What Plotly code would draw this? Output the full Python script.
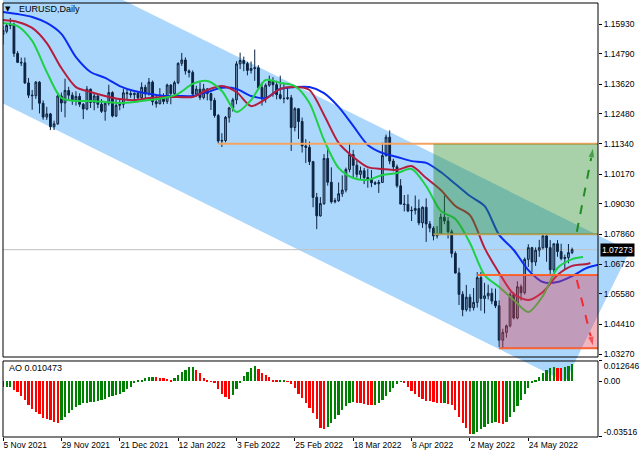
import plotly.graph_objects as go
import pandas as pd

# ---------------- data ----------------
weekdays = list(pd.bdate_range("2021-11-05", "2022-06-09"))
sunday_bars = [pd.Timestamp("2022-03-13"), pd.Timestamp("2022-03-27")]
dates = sorted(weekdays + sunday_bars)

opens = [1.1553,1.1565,1.1587,1.1592,1.1480,1.1446,1.1444,1.1367,1.1320,1.1318,1.1370,1.1289,1.1236,1.1248,1.1199,1.1210,
 1.1317,1.1290,1.1338,1.1320,1.1302,1.1315,1.1285,1.1267,1.1343,1.1292,1.1317,1.1285,1.1258,1.1289,1.1330,1.1240,
 1.1281,1.1285,1.1329,1.1326,1.1322,1.1327,1.1310,1.1350,1.1325,1.1370,1.1295,1.1287,1.1312,1.1296,1.1359,1.1326,
 1.1368,1.1442,1.1455,1.1413,1.1407,1.1324,1.1343,1.1311,1.1344,1.1326,1.1300,1.1242,1.1144,1.1146,1.1235,1.1271,
 1.1302,1.1440,1.1453,1.1441,1.1415,1.1422,1.1425,1.1349,1.1306,1.1358,1.1374,1.1360,1.1322,1.1308,1.1307,1.1310,
 1.1196,1.1268,1.1219,1.1125,1.1120,1.1065,1.0928,1.0857,1.0904,1.1077,1.0986,1.0911,1.0915,1.0942,1.0956,1.1035,
 1.1092,1.1051,1.1016,1.1030,1.1004,1.0998,1.0984,1.0980,1.0985,1.1088,1.1159,1.1067,1.1045,1.0972,1.0902,1.0901,
 1.0876,1.0878,1.0885,1.0830,1.0890,1.0826,1.0810,1.0780,1.0787,1.0852,1.0837,1.0796,1.0713,1.0638,1.0556,1.0497,
 1.0545,1.0505,1.0525,1.0620,1.0540,1.0550,1.0560,1.0530,1.0512,1.0380,1.0410,1.0435,1.0555,1.0465,1.0585,1.0562,
 1.0690,1.0735,1.0680,1.0725,1.0735,1.0780,1.0735,1.0650,1.0750,1.0720,1.0693,1.0697,1.0716]
highs = [1.1585,1.1593,1.1616,1.1598,1.1489,1.1464,1.1464,1.1386,1.1340,1.1374,1.1374,1.1300,1.1275,1.1252,1.1222,1.1330,
 1.1330,1.1383,1.1352,1.1331,1.1335,1.1327,1.1290,1.1355,1.1345,1.1325,1.1320,1.1305,1.1292,1.1360,1.1335,1.1305,
 1.1305,1.1345,1.1342,1.1336,1.1330,1.1333,1.1369,1.1360,1.1386,1.1376,1.1320,1.1347,1.1327,1.1364,1.1362,1.1375,
 1.1446,1.1482,1.1465,1.1419,1.1415,1.1356,1.1369,1.1363,1.1347,1.1330,1.1310,1.1248,1.1174,1.1240,1.1275,1.1310,
 1.1450,1.1483,1.1468,1.1448,1.1449,1.1495,1.1435,1.1369,1.1365,1.1395,1.1389,1.1375,1.1395,1.1364,1.1348,1.1321,
 1.1274,1.1270,1.1234,1.1151,1.1142,1.1068,1.0945,1.0929,1.1094,1.1121,1.1043,1.0925,1.0985,1.1012,1.1042,1.1137,
 1.1110,1.1070,1.1046,1.1041,1.1038,1.1033,1.0990,1.0995,1.1138,1.1169,1.1185,1.1076,1.1054,1.0998,1.0937,1.0939,
 1.0893,1.0935,1.0920,1.0893,1.0924,1.0837,1.0817,1.0818,1.0866,1.0936,1.0852,1.0805,1.0721,1.0658,1.0568,1.0592,
 1.0557,1.0580,1.0641,1.0642,1.0600,1.0593,1.0579,1.0578,1.0533,1.0424,1.0440,1.0564,1.0564,1.0606,1.0594,1.0697,
 1.0748,1.0738,1.0736,1.0765,1.0787,1.0786,1.0764,1.0750,1.0764,1.0750,1.0708,1.0749,1.0735]
lows = [1.1514,1.1557,1.1573,1.1467,1.1443,1.1432,1.1363,1.1309,1.1264,1.1306,1.1250,1.1226,1.1225,1.1186,1.1186,1.1206,
 1.1256,1.1235,1.1305,1.1283,1.1280,1.1275,1.1228,1.1262,1.1271,1.1262,1.1270,1.1252,1.1222,1.1280,1.1235,1.1236,
 1.1262,1.1270,1.1300,1.1310,1.1305,1.1299,1.1300,1.1300,1.1318,1.1281,1.1272,1.1285,1.1285,1.1286,1.1285,1.1315,
 1.1362,1.1432,1.1399,1.1388,1.1315,1.1314,1.1301,1.1304,1.1300,1.1263,1.1234,1.1135,1.1121,1.1139,1.1215,1.1257,
 1.1285,1.1420,1.1412,1.1396,1.1403,1.1375,1.1340,1.1280,1.1291,1.1352,1.1314,1.1304,1.1303,1.1289,1.1302,1.1106,
 1.1181,1.1152,1.1100,1.1060,1.1052,1.0890,1.0806,1.0854,1.0899,1.0973,1.0904,1.0905,1.0911,1.0930,1.0947,1.1024,
 1.1004,1.1004,1.0998,1.0979,1.0965,1.0967,1.0975,1.0945,1.0985,1.1084,1.1055,1.1028,1.0965,1.0902,1.0874,1.0871,
 1.0837,1.0862,1.0821,1.0811,1.0757,1.0794,1.0763,1.0770,1.0787,1.0825,1.0770,1.0697,1.0635,1.0515,1.0472,1.0490,
 1.0490,1.0494,1.0505,1.0493,1.0483,1.0536,1.0518,1.0503,1.0354,1.0348,1.0390,1.0429,1.0460,1.0460,1.0532,1.0555,
 1.0661,1.0642,1.0665,1.0700,1.0728,1.0681,1.0627,1.0640,1.0700,1.0686,1.0653,1.0675,1.0710]
closes = [1.1568,1.1587,1.1592,1.1480,1.1446,1.1444,1.1367,1.1320,1.1318,1.1370,1.1289,1.1236,1.1248,1.1199,1.1210,1.1317,
 1.1290,1.1338,1.1320,1.1302,1.1315,1.1285,1.1267,1.1343,1.1292,1.1317,1.1285,1.1258,1.1289,1.1330,1.1240,1.1281,
 1.1285,1.1329,1.1326,1.1322,1.1327,1.1310,1.1350,1.1325,1.1370,1.1295,1.1287,1.1312,1.1296,1.1359,1.1326,1.1368,
 1.1442,1.1455,1.1413,1.1407,1.1324,1.1343,1.1311,1.1344,1.1326,1.1300,1.1242,1.1144,1.1146,1.1235,1.1271,1.1302,
 1.1440,1.1453,1.1441,1.1415,1.1422,1.1425,1.1349,1.1306,1.1358,1.1374,1.1360,1.1322,1.1308,1.1307,1.1310,1.1196,
 1.1268,1.1219,1.1125,1.1120,1.1065,1.0928,1.0857,1.0904,1.1077,1.0986,1.0911,1.0915,1.0942,1.0956,1.1035,1.1092,
 1.1051,1.1016,1.1030,1.1004,1.0998,1.0984,1.0980,1.0985,1.1088,1.1159,1.1067,1.1045,1.0972,1.0902,1.0901,1.0876,
 1.0878,1.0885,1.0830,1.0890,1.0826,1.0810,1.0780,1.0787,1.0852,1.0837,1.0796,1.0713,1.0638,1.0556,1.0497,1.0545,
 1.0505,1.0525,1.0620,1.0540,1.0550,1.0560,1.0530,1.0512,1.0380,1.0410,1.0435,1.0555,1.0465,1.0585,1.0562,1.0690,
 1.0735,1.0680,1.0725,1.0735,1.0780,1.0735,1.0650,1.0750,1.0720,1.0693,1.0697,1.0716,1.07273]

# Alligator lines (every 4 bars; shifted forward)
jaw_bars = [0,4,8,12,16,20,24,28,32,36,40,44,48,52,56,60,64,68,72,76,80,84,88,92,96,100,104,108,112,116,120,124,128,132,136,140,144,148,152,156,160,164]
jaw_vals = [1.1639,1.1631,1.1620,1.1597,1.1555,1.1466,1.1409,1.1386,1.1355,1.1336,1.1325,1.1317,1.1317,1.1317,1.1332,1.1348,
 1.1344,1.1317,1.1309,1.1344,1.1351,1.1351,1.1328,1.1275,1.1202,1.1129,1.1098,1.1083,1.1067,1.1060,1.1025,1.0979,1.0933,
 1.0895,1.0784,1.0726,1.0649,1.0603,1.0603,1.0626,1.0657,1.0672]
teeth_bars = [0,4,8,12,16,20,24,28,32,36,40,44,48,52,56,60,64,68,72,76,80,84,88,92,96,100,104,108,112,116,120,124,128,132,136,140,144,148,152,156,160,161]
teeth_vals = [1.1608,1.1601,1.1578,1.1520,1.1424,1.1351,1.1332,1.1317,1.1305,1.1301,1.1309,1.1313,1.1313,1.1313,1.1340,1.1355,
 1.1332,1.1278,1.1305,1.1344,1.1351,1.1340,1.1244,1.1137,1.1083,1.1044,1.1037,1.1033,1.1048,1.1002,1.0956,1.0895,1.0860,
 1.0734,1.0638,1.0557,1.0534,1.0565,1.0630,1.0665,1.0672,1.0676]
lips_bars = [0,4,8,12,16,20,24,28,32,36,40,44,48,52,56,60,64,68,72,76,80,84,88,92,96,100,104,108,112,116,120,124,128,132,136,140,144,148,152,156,159]
lips_vals = [1.1597,1.1585,1.1528,1.1409,1.1309,1.1298,1.1298,1.1294,1.1290,1.1294,1.1301,1.1309,1.1325,1.1363,1.1374,1.1336,
 1.1255,1.1301,1.1378,1.1367,1.1355,1.1290,1.1148,1.1041,1.1002,1.0995,1.1014,1.1021,1.1037,1.0971,1.0876,1.0845,1.0753,
 1.0630,1.0584,1.0534,1.0488,1.0550,1.0657,1.0691,1.0699]

# Awesome Oscillator per bar (x 0.001)
ao_milli = [
 -4.0,-3.7,-3.6,-5.7,-6.7,-9.4,-12.0,-15.1,-17.8,-19.3,
 -20.8,-23.1,-23.9,-24.5,-25.6,-26.2,-24.5,-22.4,-20.3,-18.2,
 -16.6,-15.3,-14.0,-13.6,-13.4,-13.0,-12.6,-12.0,-11.1,-10.3,
 -9.4,-8.8,-8.2,-6.9,-5.2,-3.6,-0.6,0.6,1.0,1.7,
 2.3,2.7,2.3,1.9,1.7,1.5,1.0,1.7,3.8,5.5,
 7.3,8.6,9.0,7.3,5.2,1.7,0.6,-0.4,-1.5,-5.0,
 -7.8,-10.3,-11.3,-9.0,-5.0,-1.5,3.1,5.9,8.4,9.6,
 7.5,5.2,3.8,2.3,1.0,0.4,0.45,0.6,-0.4,-2.1,
 -4.6,-7.8,-10.9,-14.0,-17.2,-20.3,-24.1,-29.8,-30.0,-28.7,
 -26.6,-24.1,-21.4,-18.2,-15.7,-14.0,-13.2,-13.6,-14.0,-14.5,
 -14.9,-15.3,-15.1,-14.0,-12.0,-9.4,-6.7,-4.2,-1.9,-0.4,
 -1.5,-3.6,-6.1,-8.2,-9.9,-11.3,-12.2,-12.6,-13.2,-13.8,
 -14.0,-13.7,-14.3,-15.3,-18.2,-22.4,-26.6,-29.8,-33.5,-33.0,
 -31.9,-30.4,-28.7,-27.0,-26.2,-26.0,-26.6,-27.0,-25.6,-22.4,
 -19.3,-15.7,-12.0,-8.2,-4.6,-1.5,0.6,2.7,4.8,6.9,
 8.0,8.6,8.4,8.0,9.0,9.6,10.473]
ao_vals = [v / 1000 for v in ao_milli]
ao_prev_first = -4.3 / 1000

tick_dates = ["2021-11-05","2021-11-29","2021-12-21","2022-01-12","2022-02-03","2022-02-25","2022-03-18","2022-04-08","2022-05-02","2022-05-24"]
tick_labels = ["5 Nov 2021","29 Nov 2021","21 Dec 2021","12 Jan 2022","3 Feb 2022","25 Feb 2022","18 Mar 2022","8 Apr 2022","2 May 2022","24 May 2022"]
price_ticks = [1.15930,1.14790,1.13620,1.12480,1.11340,1.10170,1.09030,1.07860,1.06720,1.05580,1.04410,1.03270]
ao_top, ao_zero, ao_bottom = 0.012646, 0.0, -0.03516

# drawing objects (bar index, price)
channel_upper = [(0, 1.1913), (171.8, 1.07225)]
channel_lower = [(0, 1.1288), (154.1, 1.02207)]
green_zone = dict(start=118, low=1.0786, high=1.1134)
red_zone = dict(start=136, low=1.0349, high=1.0630)
level_lines = [(59, 1.1134, "#f4a460"), (118, 1.0786, "#c9a05a"), (130, 1.0630, "#ff6a2a"), (136, 1.0349, "#ff6a2a")]
arrow_up = [(157.3, 1.0796), (161.8, 1.1120)]
arrow_down = [(157.3, 1.0611), (161.8, 1.0355)]

# ---------------- layout constants ----------------
W, H = 640, 457
X_LO, X_HI = 0.0, 163.1
P_LO, P_HI = 1.031549, 1.167356
AO_LO, AO_HI = ao_bottom - 1e-6, ao_top + 1e-6
PRICE_DOM = [0.18433, 1.0]
AO_DOM = [0.0, 0.17512]

bar_idx = list(range(len(closes)))
tick_pos = [dates.index(pd.Timestamp(d)) for d in tick_dates]

def px(i):
    return (i - X_LO) / (X_HI - X_LO)

def py(p):
    return PRICE_DOM[0] + (p - P_LO) / (P_HI - P_LO) * (PRICE_DOM[1] - PRICE_DOM[0])

fig = go.Figure()

navy = "#0c2340"
fig.add_trace(go.Candlestick(
    x=bar_idx, open=opens, high=highs, low=lows, close=closes,
    increasing=dict(line=dict(color=navy, width=1), fillcolor="#7b98b6"),
    decreasing=dict(line=dict(color=navy, width=1), fillcolor=navy),
    whiskerwidth=0, xaxis="x", yaxis="y", showlegend=False, hoverinfo="skip"))

for xs, ys, col in [(jaw_bars, jaw_vals, "#0a2cf0"), (teeth_bars, teeth_vals, "#b41e3c"), (lips_bars, lips_vals, "#1ed045")]:
    fig.add_trace(go.Scatter(x=xs, y=ys, mode="lines", line=dict(color=col, width=2, shape="spline", smoothing=0.8),
                             xaxis="x", yaxis="y", showlegend=False, hoverinfo="skip"))

ao_colors = []
prev = ao_prev_first
for v in ao_vals:
    ao_colors.append("#008000" if v > prev else "#ff0000")
    prev = v
fig.add_trace(go.Bar(x=bar_idx, y=ao_vals, marker=dict(color=ao_colors, line=dict(width=0)), width=0.62,
                     xaxis="x", yaxis="y2", showlegend=False, hoverinfo="skip"))
for ya in ["y3", "y4"]:
    fig.add_trace(go.Scatter(x=[X_LO], y=[ao_zero], mode="markers", marker=dict(opacity=0, size=1),
                             xaxis="x", yaxis=ya, showlegend=False, hoverinfo="skip"))

for pts, col in [(arrow_up, "#1b8a1b"), (arrow_down, "#ff2020")]:
    fig.add_trace(go.Scatter(x=[p[0] for p in pts], y=[p[1] for p in pts], mode="lines+markers",
                             line=dict(color=col, width=2, dash="dash"),
                             marker=dict(symbol=["circle", "arrow"], size=[0, 11], color=col, angleref="previous"),
                             xaxis="x", yaxis="y", showlegend=False, hoverinfo="skip"))

shapes = []
ul, ur = channel_upper
ll, lr = channel_lower
path = "M {} {} L {} {} L {} {} L {} {} Z".format(px(ul[0]), py(ul[1]), px(ur[0]), py(ur[1]),
                                                  px(lr[0]), py(lr[1]), px(ll[0]), py(ll[1]))
shapes.append(dict(type="path", path=path, xref="paper", yref="paper", fillcolor="#acd7fc",
                   line=dict(width=0), layer="below"))
shapes.append(dict(type="line", xref="x", yref="y", x0=X_LO, x1=X_HI, y0=closes[-1], y1=closes[-1],
                   line=dict(color="#c0c0c0", width=1), layer="below"))
for start, lvl, col in level_lines:
    shapes.append(dict(type="line", xref="x", yref="y", x0=start, x1=X_HI + 5, y0=lvl, y1=lvl,
                       line=dict(color=col, width=2), layer="above"))
shapes.append(dict(type="rect", xref="x", yref="y", x0=green_zone["start"], x1=X_HI + 5,
                   y0=green_zone["low"], y1=green_zone["high"], fillcolor="rgba(40,140,40,0.40)",
                   line=dict(width=0), layer="above"))
shapes.append(dict(type="rect", xref="x", yref="y", x0=red_zone["start"], x1=X_HI + 5,
                   y0=red_zone["low"], y1=red_zone["high"], fillcolor="rgba(225,60,80,0.38)",
                   line=dict(width=0), layer="above"))
shapes.append(dict(type="rect", xref="paper", yref="paper", x0=0, x1=1, y0=PRICE_DOM[0], y1=1,
                   line=dict(color="#000000", width=1), fillcolor="rgba(0,0,0,0)", layer="above"))
shapes.append(dict(type="rect", xref="paper", yref="paper", x0=0, x1=1, y0=AO_DOM[0], y1=AO_DOM[1],
                   line=dict(color="#000000", width=1), fillcolor="rgba(0,0,0,0)", layer="above"))

font = "Liberation Sans"
annotations = [
    dict(xref="paper", yref="paper", x=0.0235, y=0.986, text="EURUSD,Daily", showarrow=False,
         xanchor="left", yanchor="middle", font=dict(family=font, size=9, color="#000000")),
    dict(xref="paper", yref="paper", x=0.0085, y=0.986, text="▼", showarrow=False,
         xanchor="center", yanchor="middle", font=dict(family="DejaVu Sans", size=7, color="#000000")),
    dict(xref="paper", yref="paper", x=0.0067, y=0.158, text="AO {:.6f}".format(ao_vals[-1]), showarrow=False,
         xanchor="left", yanchor="middle", font=dict(family=font, size=9, color="#000000")),
    dict(xref="paper", yref="y", x=1.003, y=closes[-1], text="{:.5f}".format(closes[-1]), showarrow=False,
         xanchor="left", yanchor="middle", bgcolor="#000000", borderpad=1,
         font=dict(family=font, size=8.5, color="#ffffff")),
]

tf = dict(family=font, size=8.5, color="#000000")
yax_common = dict(side="right", anchor="x", showgrid=False, zeroline=False, ticks="outside", ticklen=3,
                  tickcolor="#000000", tickfont=tf, automargin=False, showline=False)

fig.update_layout(
    width=W, height=H, margin=dict(l=3, r=42, t=3, b=20, autoexpand=False),
    paper_bgcolor="#ffffff", plot_bgcolor="rgba(0,0,0,0)",
    showlegend=False, bargap=0, shapes=shapes, annotations=annotations,
    xaxis=dict(domain=[0, 1], range=[X_LO, X_HI], anchor="y2", showgrid=False, zeroline=False,
               rangeslider=dict(visible=False), tickvals=tick_pos, ticktext=tick_labels, tickangle=0,
               ticks="outside", ticklen=3, tickcolor="#000000", ticklabelposition="outside right",
               tickfont=dict(family=font, size=8.5, color="#000000"), showline=False, automargin=False),
    yaxis=dict(domain=PRICE_DOM, range=[P_LO, P_HI], tickvals=price_ticks,
               ticktext=["{:.5f}".format(t) for t in price_ticks], **yax_common),
    yaxis2=dict(domain=AO_DOM, range=[AO_LO, AO_HI], tickvals=[ao_zero], ticktext=["0.00"], **yax_common),
    yaxis3=dict(domain=AO_DOM, range=[AO_LO, AO_HI], overlaying="y2", tickvals=[ao_top],
                ticktext=["{:.6f}".format(ao_top)], ticklabelshift=5, **yax_common),
    yaxis4=dict(domain=AO_DOM, range=[AO_LO, AO_HI], overlaying="y2", tickvals=[ao_bottom],
                ticktext=["{:.5f}".format(ao_bottom)], ticklabelshift=-5, **yax_common),
)

fig.write_html("out.html", config={"displayModeBar": False},
               post_script="document.body.style.margin='0';")
